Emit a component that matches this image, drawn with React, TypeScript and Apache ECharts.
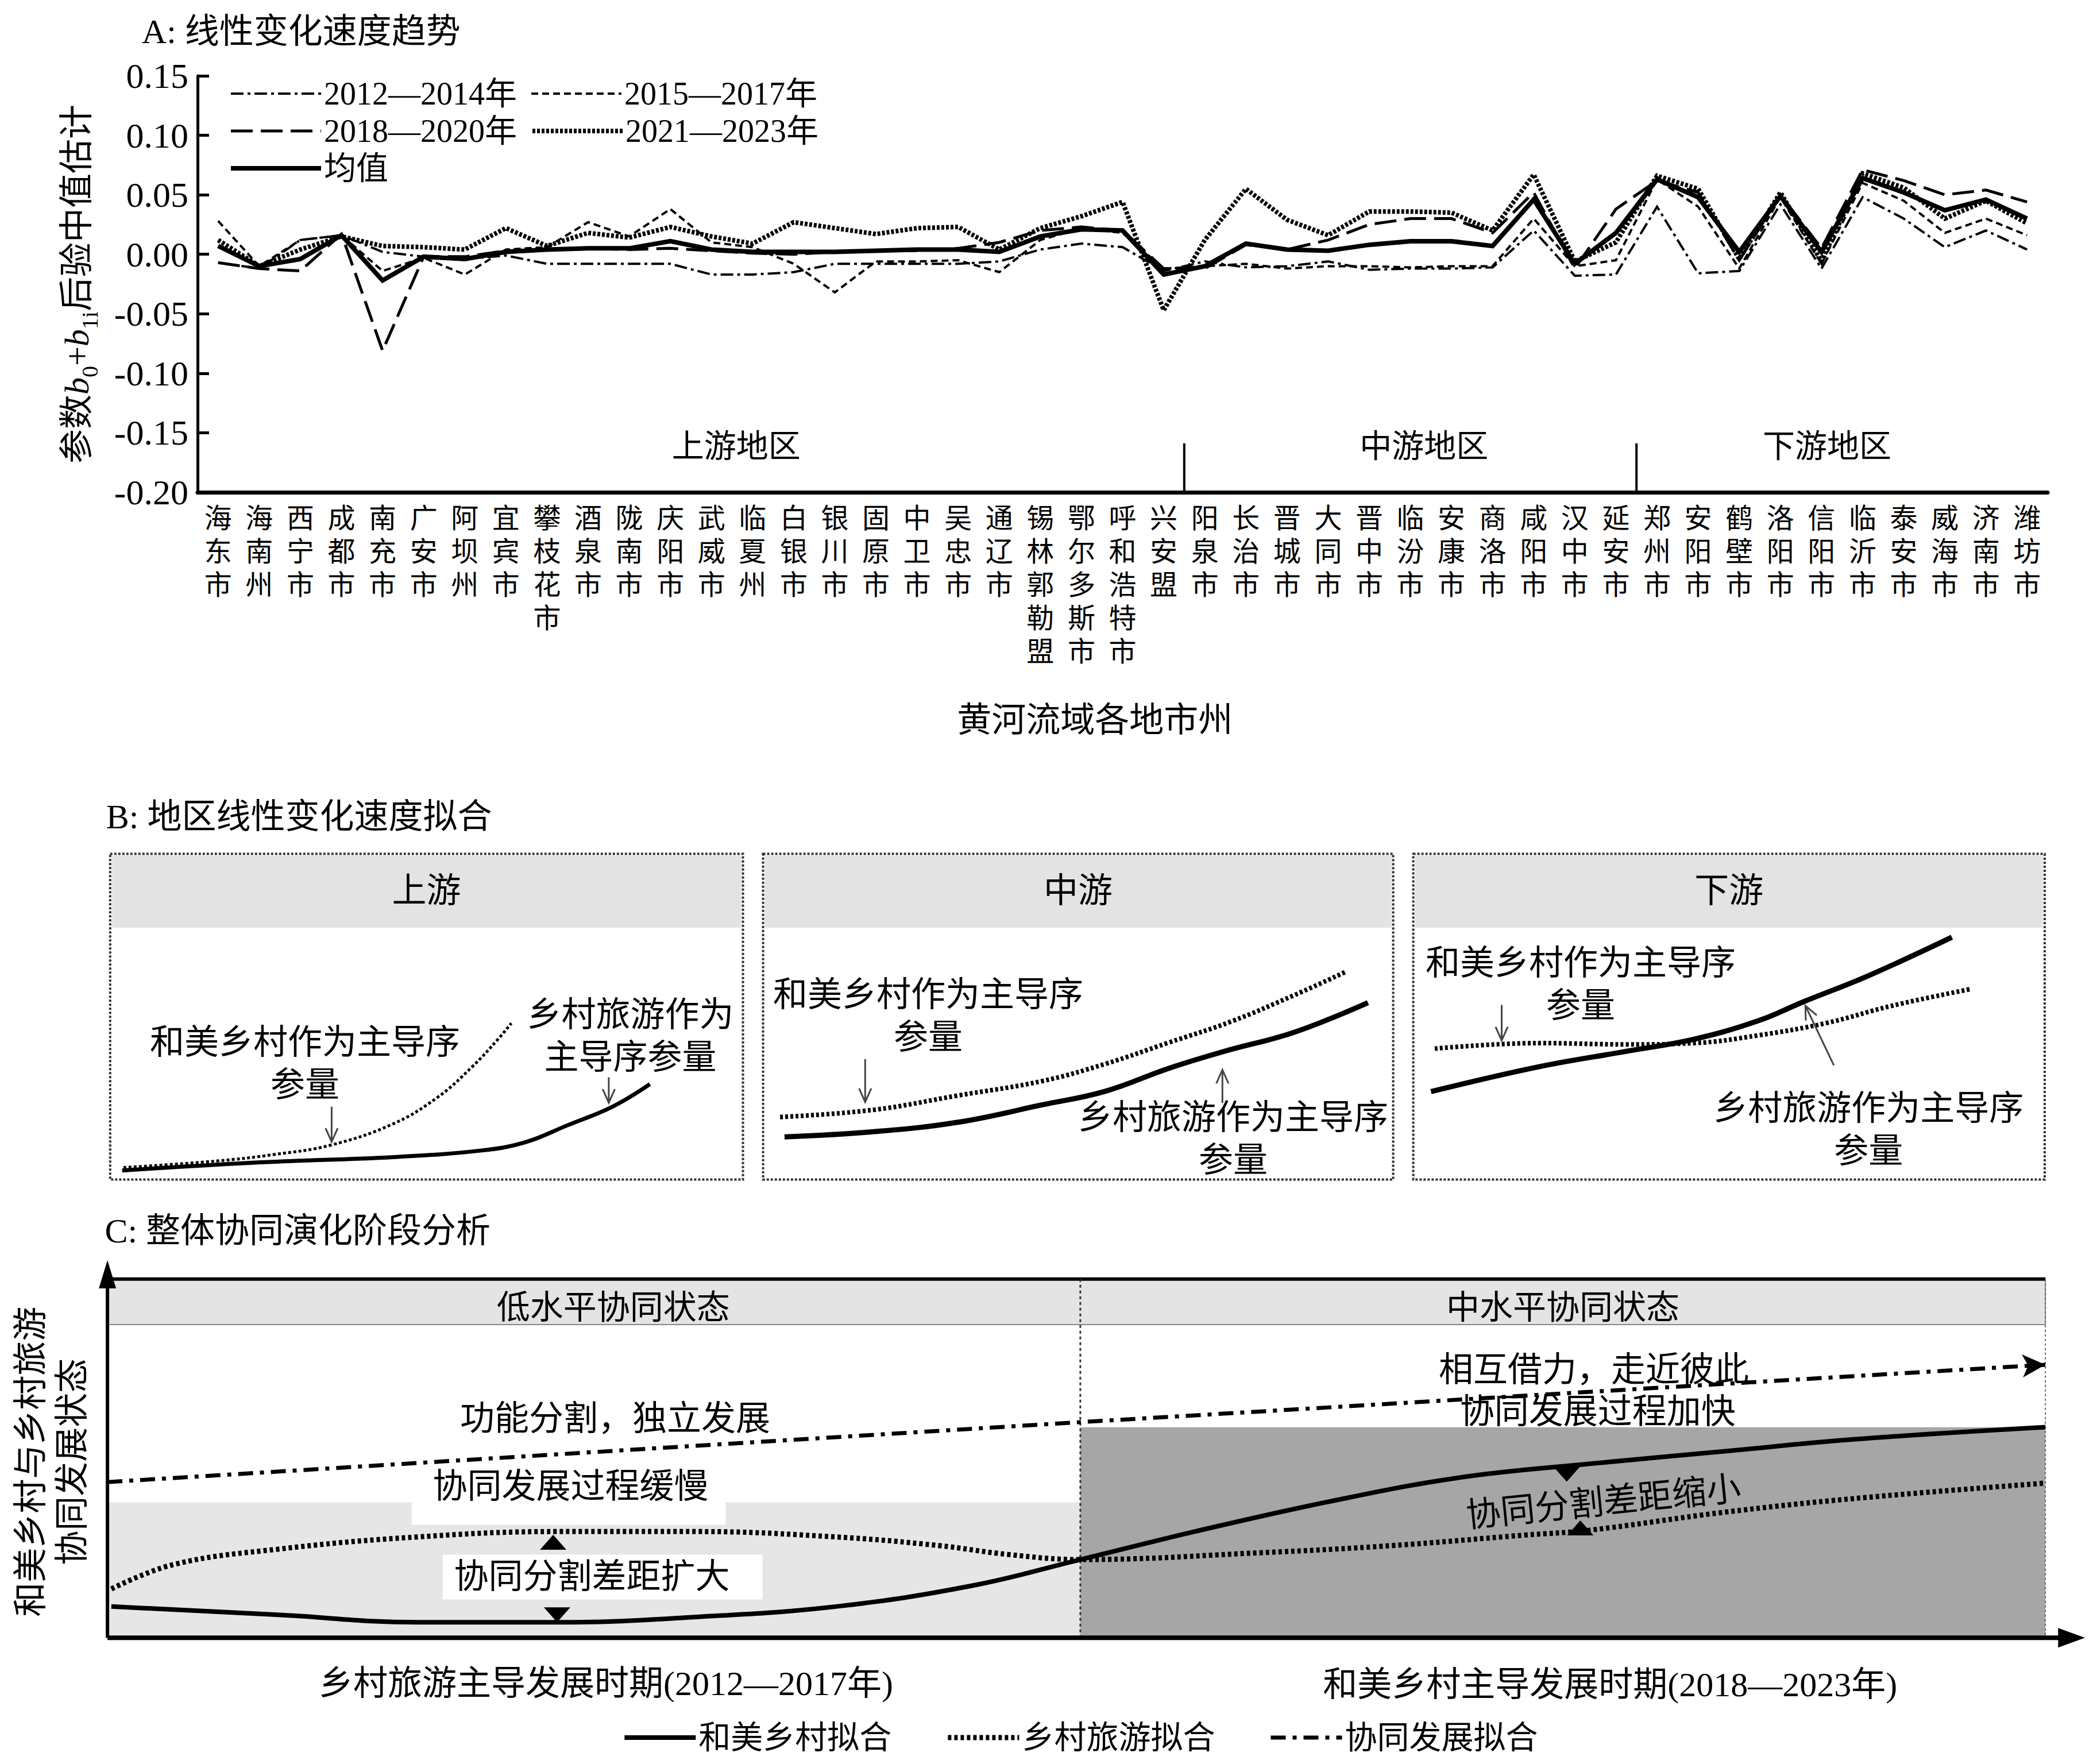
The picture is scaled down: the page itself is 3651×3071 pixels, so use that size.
import React, { useEffect, useRef } from 'react';
import * as echarts from 'echarts';

const FONT = "'Liberation Serif', 'Times New Roman', 'Noto Sans CJK SC', serif";
const S = 2.339;
const px = (d: number) => Math.round(d * S * 10) / 10;

// ---------------- Panel A data ----------------
const cities = ['海东市','海南州','西宁市','成都市','南充市','广安市','阿坝州','宜宾市','攀枝花市','酒泉市','陇南市','庆阳市','武威市','临夏州','白银市','银川市','固原市','中卫市','吴忠市','通辽市','锡林郭勒盟','鄂尔多斯市','呼和浩特市','兴安盟','阳泉市','长治市','晋城市','大同市','晋中市','临汾市','安康市','商洛市','咸阳市','汉中市','延安市','郑州市','安阳市','鹤壁市','洛阳市','信阳市','临沂市','泰安市','威海市','济南市','潍坊市'];
const regionNames = ['上游地区', '中游地区', '下游地区'];
const regionSizes = [24, 11, 10];
const periodNames = ['2012—2014年', '2015—2017年', '2018—2020年', '2021—2023年', '均值'];
const p2012 = [-0.007,-0.012,0.012,0.016,0.002,-0.002,-0.004,-0.001,-0.008,-0.008,-0.008,-0.008,-0.017,-0.017,-0.015,-0.008,-0.008,-0.008,-0.008,-0.006,0.004,0.009,0.006,-0.014, -0.006,-0.011,-0.010,-0.006,-0.013,-0.012,-0.012,-0.011,0.020,-0.018,-0.017, 0.040,-0.016,-0.014,0.042,-0.012,0.048,0.030,0.006,0.020,0.004];
const p2015 = [0.028,-0.010,0.012,0.016,-0.014,-0.003,-0.017,0.004,0.006,0.027,0.015,0.038,0.010,0.006,-0.008,-0.032,-0.006,-0.006,-0.005,-0.015,0.012,0.022,0.018,-0.012, -0.010,-0.008,-0.012,-0.010,-0.010,-0.011,-0.010,-0.010,0.030,-0.010,-0.005, 0.063,0.040,-0.012,0.048,-0.008,0.060,0.045,0.018,0.030,0.016];
const p2018 = [-0.007,-0.012,-0.014,0.017,-0.081,-0.002,-0.002,0.003,0.004,0.005,0.004,0.005,0.003,0.001,0.000,0.002,0.003,0.003,0.005,0.010,0.020,0.023,0.020,-0.012, -0.012,0.008,0.004,0.012,0.025,0.030,0.030,0.018,0.052,-0.012,0.038, 0.062,0.052,-0.005,0.050,0.005,0.071,0.062,0.050,0.054,0.044];
const p2021 = [0.012,-0.010,0.004,0.015,0.007,0.006,0.004,0.022,0.007,0.018,0.014,0.023,0.015,0.009,0.027,0.022,0.017,0.022,0.023,0.004,0.022,0.032,0.044,-0.047, 0.012,0.055,0.029,0.016,0.036,0.036,0.035,0.020,0.067,-0.006,0.010, 0.066,0.055,-0.004,0.052,-0.006,0.068,0.056,0.030,0.045,0.026];
const pMean = [0.007,-0.010,-0.004,0.016,-0.022,-0.002,-0.004,0.002,0.004,0.005,0.005,0.011,0.004,0.002,0.002,0.002,0.003,0.004,0.004,0.002,0.015,0.021,0.020,-0.017, -0.010,0.009,0.004,0.003,0.008,0.011,0.011,0.007,0.046,-0.008,0.018, 0.063,0.048,0.002,0.049,0.002,0.064,0.052,0.037,0.046,0.030];
const yMin = -0.2, yMax = 0.15, yStep = 0.05;

// ---------------- Panel B data (schematic units 0-100) ----------------
const bPanelNames = ['上游', '中游', '下游'];
const bVillageUp = [[2.1,3.7],[16.8,5.7],[25.9,7.7],[34.9,10.6],[44.7,17.1],[51.7,25.2],[57.2,34.6],[61.3,43.1],[63.4,48.0]];
const bTourismUp = [[1.9,2.8],[23.8,5.3],[44.7,6.9],[58.5,8.9],[65.5,11.4],[72.3,16.7],[79.4,22.4],[85.3,29.3]];
const bVillageMid = [[2.7,19.2],[17.5,21.4],[30.9,25.8],[44.2,30.2],[54.3,35.5],[64.3,42.0],[74.4,48.6],[84.4,56.7],[92.4,63.7]];
const bTourismMid = [[3.4,13.1],[17.5,14.7],[30.9,17.6],[44.2,22.9],[54.3,27.1],[64.3,34.1],[72.9,39.2],[84.4,45.3],[96.0,54.3]];
const bVillageDown = [[3.4,40.2],[19.8,41.9],[33.8,41.5],[44.5,41.9],[54.7,44.3],[65.3,48.0],[75.7,53.3],[88.3,58.5]];
const bTourismDown = [[2.8,27.0],[19.8,34.6],[33.8,39.4],[44.5,43.1],[54.7,48.8],[61.7,54.5],[72.1,62.6],[85.3,74.4]];
const bVillageText = '和美乡村作为主导序\n参量';
const bTourismTexts = ['乡村旅游作为\n主导序参量', '乡村旅游作为主导序\n参量', '乡村旅游作为主导序\n参量'];

// ---------------- Panel C data (schematic units 0-100) ----------------
const cLegendNames = ['和美乡村拟合', '乡村旅游拟合', '协同发展拟合'];
const cVillage = [[0.2,8.7],[8.8,6.4],[16,4.3],[23.2,4.3],[30.4,5.8],[37.6,8.7],[44.7,14.6],[50.2,21.8],[56.1,29.6],[62.9,37.8],[69.7,44.6],[76.5,48.5],[83.3,51.9],[90.1,55.3],[100,58.7]];
const cTourism = [[0.2,13.6],[3.4,20.4],[8.8,24.7],[16,28.1],[23.2,29.6],[30.4,29.6],[37.6,28.1],[42.9,25.7],[46.5,23.2],[50.2,21.8],[59.5,23.7],[66.3,25.7],[73.1,28.6],[76.5,30],[83.3,34.9],[90.1,38.8],[100,43.1]];
const cSynergy = [[0, 43.4], [50.2, 60.1], [100, 76.1]];
const cStageNames = ['低水平协同状态', '中水平协同状态'];
const cPeriodNames = ['乡村旅游主导发展时期(2012—2017年)', '和美乡村主导发展时期(2018—2023年)'];
const cBoundary = 50.2;
const cLowBand = 37.8;
const cMidBand = 58.7;

function buildOption() {
  // ---------- layout A ----------
  const AL = 344, AT = 132, AR = 3565, AB = 857;
  const catW = (AR - AL) / cities.length;

  // ---------- layout B ----------
  const bBoxes = [{ x0: 82, x1: 553 }, { x0: 568, x1: 1037 }, { x0: 1052, x1: 1522 }];
  const bTop = 635.5, bBot = 878, bHead = 690.5;
  const bx = (i: number, u: number) => px(bBoxes[i].x0 + (u / 100) * (bBoxes[i].x1 - bBoxes[i].x0));
  const by = (u: number) => px(bBot - (u / 100) * (bBot - bTop));

  // ---------- layout C ----------
  const cL = 80, cR = 1522.5, cT = 952, cB = 1219;
  const cx = (u: number) => px(cL + (u / 100) * (cR - cL));
  const cy = (u: number) => px(cB - (u / 100) * (cB - cT));

  const txt = (text: string, x: number, y: number, size: number, extra: any = {}) => ({
    type: 'text', x, y, z: 20,
    rotation: extra.rotation || 0,
    style: {
      text, fontSize: size, fontFamily: FONT, fill: '#000',
      align: extra.align || 'center', textAlign: extra.align || 'center',
      verticalAlign: 'middle', textVerticalAlign: 'middle',
      lineHeight: extra.lineHeight,
    },
  });

  const arrow = (x1: number, y1: number, x2: number, y2: number, color: string, w: number) => {
    const ang = Math.atan2(y2 - y1, x2 - x1);
    const hl = 26, hw = 0.42;
    const a1 = ang + Math.PI - hw, a2 = ang + Math.PI + hw;
    return [
      { type: 'line', z: 20, shape: { x1, y1, x2, y2 }, style: { stroke: color, lineWidth: w } },
      { type: 'polyline', z: 20, shape: { points: [[x2 + hl * Math.cos(a1), y2 + hl * Math.sin(a1)], [x2, y2], [x2 + hl * Math.cos(a2), y2 + hl * Math.sin(a2)]] }, style: { stroke: color, lineWidth: w, fill: null } },
    ];
  };

  const tri = (x: number, y: number, up: boolean) => {
    const w = 46, h = 26;
    const pts = up
      ? [[x, y - h / 2], [x - w / 2, y + h / 2], [x + w / 2, y + h / 2]]
      : [[x, y + h / 2], [x - w / 2, y - h / 2], [x + w / 2, y - h / 2]];
    return { type: 'polygon', z: 20, shape: { points: pts }, style: { fill: '#000' } };
  };

  const g: any[] = [];
  // ---- Panel A decorations ----
  g.push(txt('A: 线性变化速度趋势', px(105.5), px(23.5), 60, { align: 'left' }));
  let acc = 0;
  regionSizes.forEach((n, i) => {
    acc += n;
    if (i < regionSizes.length - 1) {
      const x = AL + acc * catW;
      g.push({ type: 'line', z: 20, shape: { x1: x, y1: px(330), x2: x, y2: AB }, style: { stroke: '#000', lineWidth: 4 } });
    }
  });
  const regionCenters = [548, 1060, 1360];
  regionNames.forEach((r, i) => g.push(txt(r, px(regionCenters[i]), px(332), 56)));
  g.push(txt('黄河流域各地市州', px(815), px(536), 60));

  // ---- Panel B decorations ----
  g.push(txt('B: 地区线性变化速度拟合', px(79), px(608), 60, { align: 'left' }));
  bBoxes.forEach((b, i) => {
    g.push({ type: 'rect', z: 0, shape: { x: px(b.x0) + 3, y: px(bTop) + 3, width: px(b.x1 - b.x0) - 6, height: px(bHead - bTop) - 3 }, style: { fill: '#e3e3e3' } });
    g.push({ type: 'rect', z: 1, shape: { x: px(b.x0), y: px(bTop), width: px(b.x1 - b.x0), height: px(bBot - bTop) }, style: { fill: null, stroke: '#333', lineWidth: 4, lineDash: [4, 3] } });
    g.push(txt(bPanelNames[i], bx(i, 50), px((bTop + bHead) / 2), 60));
  });
  const bVillagePos = [[30.8, 35.5], [26.2, 50.2], [26.5, 59.9]];
  const bTourismPos = [[82.2, 44], [74.6, 12.4], [72.1, 15.3]];
  for (let i = 0; i < 3; i++) {
    g.push(txt(bVillageText, bx(i, bVillagePos[i][0]), by(bVillagePos[i][1]), 60, { lineHeight: 74 }));
    g.push(txt(bTourismTexts[i], bx(i, bTourismPos[i][0]), by(bTourismPos[i][1]), 60, { lineHeight: 74 }));
  }
  const bArrows = [
    [0, 35.0, 22.4, 35.0, 11.6], [0, 78.8, 31.4, 78.8, 23.6],
    [1, 16.2, 37.0, 16.2, 23.8], [1, 72.9, 23.5, 72.9, 33.7],
    [2, 14.0, 53.6, 14.0, 42.7], [2, 66.6, 35.1, 62.1, 53.4],
  ];
  bArrows.forEach(a => g.push(...arrow(bx(a[0], a[1]), by(a[2]), bx(a[0], a[3]), by(a[4]), '#444', 3)));

  // ---- Panel C decorations ----
  g.push(txt('C: 整体协同演化阶段分析', px(78), px(916), 60, { align: 'left' }));
  g.push({ type: 'rect', z: 0, shape: { x: cx(0), y: cy(100), width: cx(100) - cx(0), height: cy(87.3) - cy(100) }, style: { fill: '#e4e4e4', stroke: '#888', lineWidth: 2 } });
  g.push({ type: 'rect', z: 0, shape: { x: cx(0), y: cy(cLowBand), width: cx(cBoundary) - cx(0), height: cy(0) - cy(cLowBand) }, style: { fill: '#e6e6e6' } });
  g.push({ type: 'rect', z: 0, shape: { x: cx(cBoundary), y: cy(cMidBand), width: cx(100) - cx(cBoundary), height: cy(0) - cy(cMidBand) }, style: { fill: '#a6a6a6' } });
  g.push({ type: 'rect', z: 1, shape: { x: cx(15.7), y: cy(45), width: cx(31.9) - cx(15.7), height: cy(31.5) - cy(45) }, style: { fill: '#fff' } });
  g.push({ type: 'rect', z: 1, shape: { x: cx(17.3), y: cy(23.2), width: cx(33.8) - cx(17.3), height: cy(10.7) - cy(23.2) }, style: { fill: '#fff' } });
  g.push({ type: 'line', z: 1, shape: { x1: cx(0), y1: cy(100), x2: cx(100), y2: cy(100) }, style: { stroke: '#000', lineWidth: 6 } });
  g.push({ type: 'line', z: 1, shape: { x1: cx(cBoundary), y1: cy(100), x2: cx(cBoundary), y2: cy(0) }, style: { stroke: '#333', lineWidth: 3, lineDash: [5, 5] } });
  g.push({ type: 'line', z: 1, shape: { x1: cx(100), y1: cy(100), x2: cx(100), y2: cy(0) }, style: { stroke: '#666', lineWidth: 2, lineDash: [4, 4] } });
  // axes arrows
  g.push({ type: 'line', z: 21, shape: { x1: cx(0), y1: cy(0), x2: cx(0), y2: px(950) }, style: { stroke: '#000', lineWidth: 6 } });
  g.push({ type: 'polygon', z: 21, shape: { points: [[cx(0), px(938)], [cx(0) - 15, px(959)], [cx(0) + 15, px(959)]] }, style: { fill: '#000' } });
  g.push({ type: 'line', z: 21, shape: { x1: cx(0), y1: cy(0), x2: px(1538), y2: cy(0) }, style: { stroke: '#000', lineWidth: 8 } });
  g.push({ type: 'polygon', z: 21, shape: { points: [[px(1552), cy(0)], [px(1532), cy(0) - 17], [px(1532), cy(0) + 17]] }, style: { fill: '#000' } });
  g.push(txt(cStageNames[0], cx(26.1), cy(92.1), 58));
  g.push(txt(cStageNames[1], cx(75.1), cy(92.1), 58));
  g.push(txt('功能分割，独立发展', cx(26.2), cy(61.1), 60));
  g.push(txt('协同发展过程缓慢', cx(23.9), cy(42.2), 60));
  g.push(txt('协同分割差距扩大', cx(25.0), cy(17.0), 60));
  g.push(txt('相互借力，走近彼此', cx(76.7), cy(74.7), 60));
  g.push(txt('协同发展过程加快', cx(76.9), cy(63.0), 60));
  g.push(txt('协同分割差距缩小', cx(77.2), cy(37.8), 60, { rotation: 0.1 }));
  g.push(tri(cx(23.0), cy(26.6), true));
  g.push(tri(cx(23.2), cy(6.4), false));
  g.push(tri(cx(75.3), cy(45.6), false));
  g.push(tri(cx(76.0), cy(30.6), true));
  g.push(txt(cPeriodNames[0], px(451), px(1253), 60));
  g.push(txt(cPeriodNames[1], px(1198.5), px(1254), 60));
  g.push(txt('和美乡村与乡村旅游\n协同发展状态', px(38.5), px(1088), 60, { rotation: Math.PI / 2, lineHeight: 72 }));

  // ---------- axes ----------
  const hiddenAxis = (k: number) => ({ type: 'value', gridIndex: k, min: 0, max: 100, show: false });
  const bGrids = bBoxes.map(b => ({ left: px(b.x0), top: px(bTop), width: px(b.x1 - b.x0), height: px(bBot - bTop) }));

  const seriesA = [
    { name: periodNames[0], data: p2012, lineStyle: { width: 4, type: [22, 7, 5, 7] } },
    { name: periodNames[1], data: p2015, lineStyle: { width: 4, type: [12, 7] } },
    { name: periodNames[2], data: p2018, lineStyle: { width: 5, type: [38, 14] } },
    { name: periodNames[3], data: p2021, lineStyle: { width: 8, type: [5, 3] } },
    { name: periodNames[4], data: pMean, lineStyle: { width: 8, type: 'solid' } },
  ].map(s => ({
    type: 'line', xAxisIndex: 0, yAxisIndex: 0, symbol: 'none', name: s.name, data: s.data,
    lineStyle: { color: '#000', cap: 'butt', join: 'miter', ...s.lineStyle }, itemStyle: { color: '#000' },
  }));

  const bSeriesDef = [
    { k: 1, data: bVillageUp, dotted: true, w: 5 },
    { k: 1, data: bTourismUp, dotted: false, w: 7 },
    { k: 2, data: bVillageMid, dotted: true, w: 8 },
    { k: 2, data: bTourismMid, dotted: false, w: 9 },
    { k: 3, data: bVillageDown, dotted: true, w: 8 },
    { k: 3, data: bTourismDown, dotted: false, w: 9 },
  ];
  const seriesB = bSeriesDef.map((d) => ({
    type: 'line', name: 'B-' + bPanelNames[d.k - 1] + (d.dotted ? '-和美乡村' : '-乡村旅游'),
    xAxisIndex: d.k, yAxisIndex: d.k, data: d.data, smooth: 0.4, symbol: 'none',
    lineStyle: { color: '#000', width: d.w, type: d.dotted ? [5, 4] : 'solid' },
  }));

  const seriesC = [
    { type: 'line', name: cLegendNames[0], xAxisIndex: 4, yAxisIndex: 4, data: cVillage, smooth: 0.4, symbol: 'none', z: 5,
      lineStyle: { color: '#000', width: 8 }, itemStyle: { color: '#000' } },
    { type: 'line', name: cLegendNames[1], xAxisIndex: 4, yAxisIndex: 4, data: cTourism, smooth: 0.4, symbol: 'none', z: 5,
      lineStyle: { color: '#000', width: 9, type: [6, 5] }, itemStyle: { color: '#000' } },
    { type: 'line', name: cLegendNames[2], xAxisIndex: 4, yAxisIndex: 4, symbol: 'none', z: 5,
      data: cSynergy.map((p, i) => i === cSynergy.length - 1 ? { value: p, symbol: 'arrow', symbolSize: [30, 40], symbolRotate: -87 } : { value: p }),
      lineStyle: { color: '#000', width: 7, type: [26, 12, 7, 12] }, itemStyle: { color: '#000' } },
  ];

  return {
    animation: false,
    backgroundColor: '#fff',
    grid: [
      { left: AL, top: AT, width: AR - AL, height: AB - AT },
      ...bGrids,
      { left: cx(0), top: cy(100), width: cx(100) - cx(0), height: cy(0) - cy(100) },
    ],
    xAxis: [
      {
        type: 'category', gridIndex: 0, data: cities, boundaryGap: true,
        axisLine: { onZero: false, lineStyle: { color: '#000', width: 7 } },
        axisTick: { inside: true, length: 14, interval: 0, lineStyle: { color: '#000', width: 3 } },
        axisLabel: {
          interval: 0, formatter: (v: string) => v.split('').join('\n'),
          fontSize: 48, lineHeight: 58, fontFamily: FONT, color: '#000', margin: 16,
        },
      },
      hiddenAxis(1), hiddenAxis(2), hiddenAxis(3), hiddenAxis(4),
    ],
    yAxis: [
      {
        type: 'value', gridIndex: 0, min: yMin, max: yMax, interval: yStep,
        axisLine: { show: true, onZero: false, lineStyle: { color: '#000', width: 5 } },
        axisTick: { show: true, inside: true, length: 20, lineStyle: { color: '#000', width: 5 } },
        splitLine: { show: false },
        axisLabel: {
          formatter: (v: number) => (Math.abs(v) < 1e-9 ? '0.00' : v.toFixed(2)),
          fontSize: 62, fontFamily: FONT, color: '#000', margin: 16,
        },
        name: '{t|参数}{i|b}{s|0}{t|+}{i|b}{s|1i}{t|后验中值估计}',
        nameLocation: 'middle', nameRotate: 90, nameGap: 168,
        nameTextStyle: {
          fontSize: 60, fontFamily: FONT, color: '#000',
          rich: {
            t: { fontSize: 60, fontFamily: FONT, color: '#000', lineHeight: 84, verticalAlign: 'middle' },
            i: { fontSize: 60, fontFamily: FONT, fontStyle: 'italic', color: '#000', lineHeight: 84, verticalAlign: 'middle' },
            s: { fontSize: 40, fontFamily: FONT, color: '#000', lineHeight: 44, verticalAlign: 'bottom' },
          },
        },
      },
      hiddenAxis(1), hiddenAxis(2), hiddenAxis(3), hiddenAxis(4),
    ],
    legend: [
      {
        data: periodNames, left: px(168), top: AT - 2, width: 1200, orient: 'horizontal',
        itemWidth: 157, itemHeight: 20, itemGap: 9, selectedMode: false,
        itemStyle: { opacity: 0 },
        lineStyle: { width: 'inherit', type: 'inherit', color: 'inherit' },
        textStyle: { fontSize: 56, fontFamily: FONT, color: '#000', width: 350, lineHeight: 46 },
      },
      {
        data: cLegendNames, left: px(461), top: px(1292) - 30, orient: 'horizontal',
        itemWidth: px(53), itemHeight: 20, itemGap: px(40), selectedMode: false,
        itemStyle: { opacity: 0 },
        lineStyle: { width: 'inherit', type: 'inherit', color: 'inherit' },
        textStyle: { fontSize: 56, fontFamily: FONT, color: '#000' },
      },
    ],
    series: [...seriesA, ...seriesB, ...seriesC],
    graphic: g,
  };
}

export default function App() {
  const ref = useRef<HTMLDivElement>(null);
  useEffect(() => {
    document.body.style.margin = '0';
    if (!ref.current) return;
    const chart = echarts.init(ref.current, undefined, { renderer: 'svg' });
    chart.setOption(buildOption() as any);
    return () => chart.dispose();
  }, []);
  return <div ref={ref} style={{ width: 3651, height: 3071, background: '#fff' }} />;
}
